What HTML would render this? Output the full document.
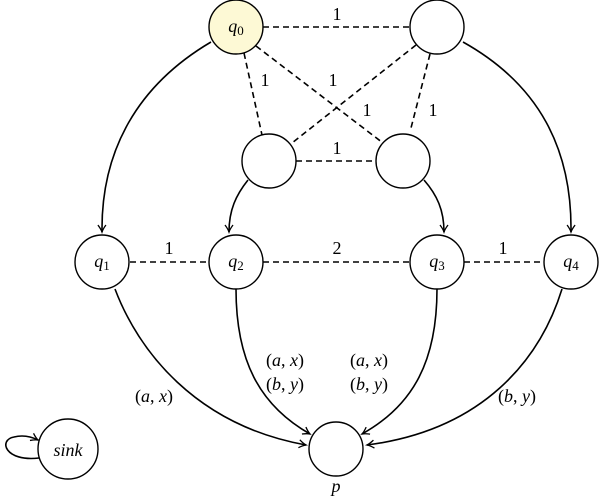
<!DOCTYPE html>
<html><head><style>
html,body{margin:0;padding:0;background:#fff;}
svg{display:block;}
text{font-family:"Liberation Serif",serif;font-size:18px;fill:#000;}
.i{font-style:italic;}
</style></head><body>
<svg width="600" height="498" viewBox="0 0 600 498" xmlns="http://www.w3.org/2000/svg">
<defs>
<marker id="a" markerWidth="10" markerHeight="10" refX="8" refY="5" orient="auto" markerUnits="userSpaceOnUse">
<path d="M1,1 Q5,4 8,5 Q5,6 1,9" fill="none" stroke="#000" stroke-width="1.3"/>
</marker>
</defs>
<g stroke="#000" stroke-width="1.6" stroke-dasharray="6,4" fill="none">
<line x1="263" y1="27" x2="410" y2="27"/>
<line x1="244" y1="53" x2="262" y2="135"/>
<line x1="256" y1="46" x2="383" y2="143"/>
<line x1="416" y1="45" x2="292" y2="143"/>
<line x1="430" y1="54" x2="411" y2="128"/>
<line x1="296" y1="161" x2="377" y2="161"/>
<line x1="130" y1="262" x2="209" y2="262"/>
<line x1="263" y1="262" x2="410" y2="262"/>
<line x1="464" y1="262" x2="545" y2="262"/>
</g>
<g stroke="#000" stroke-width="1.6" fill="none" marker-end="url(#a)">
<path d="M211,42 C138,85 101,150 102,232"/>
<path d="M463,42 C540,85 572,150 571,232"/>
<path d="M248,180 C236,195 229,210 229,232"/>
<path d="M424,180 C437,195 444,210 444,232"/>
<path d="M115,289 C138,350 195,425 306,445"/>
<path d="M236,289 C236,360 259,405 310,434"/>
<path d="M437,289 C437,360 414,405 362,434"/>
<path d="M562,289 C540,360 483,430 367,445"/>
<path d="M39,458 C5,462 -2,440 14,437 C22,435 30,436 38,440"/>
</g>
<g stroke="#000" stroke-width="1.4">
<circle cx="236" cy="27" r="27" fill="#fdf9d5"/>
<circle cx="437" cy="27" r="27" fill="#fff"/>
<circle cx="269" cy="161" r="27" fill="#fff"/>
<circle cx="403" cy="161" r="27" fill="#fff"/>
<circle cx="102" cy="262" r="27" fill="#fff"/>
<circle cx="236" cy="262" r="27" fill="#fff"/>
<circle cx="437" cy="262" r="27" fill="#fff"/>
<circle cx="571" cy="262" r="27" fill="#fff"/>
<circle cx="336" cy="449" r="27" fill="#fff"/>
<circle cx="68" cy="449" r="30" fill="#fff"/>
</g>
<g text-anchor="middle">
<text x="236" y="32" class="i">q<tspan font-size="13" font-style="normal" dy="3">0</tspan></text>
<text x="102" y="267" class="i">q<tspan font-size="13" font-style="normal" dy="3">1</tspan></text>
<text x="236" y="267" class="i">q<tspan font-size="13" font-style="normal" dy="3">2</tspan></text>
<text x="437" y="267" class="i">q<tspan font-size="13" font-style="normal" dy="3">3</tspan></text>
<text x="571" y="267" class="i">q<tspan font-size="13" font-style="normal" dy="3">4</tspan></text>
<text x="68" y="456" class="i">sink</text>
<text x="336" y="492" class="i">p</text>
<text x="337" y="20">1</text>
<text x="265" y="86">1</text>
<text x="333" y="86">1</text>
<text x="367" y="116">1</text>
<text x="433" y="116">1</text>
<text x="337" y="154">1</text>
<text x="169" y="254">1</text>
<text x="337" y="254">2</text>
<text x="503" y="254">1</text>
<text x="154" y="402">(<tspan class="i">a</tspan>, <tspan class="i">x</tspan>)</text>
<text x="285" y="366">(<tspan class="i">a</tspan>, <tspan class="i">x</tspan>)</text>
<text x="285" y="390">(<tspan class="i">b</tspan>, <tspan class="i">y</tspan>)</text>
<text x="369" y="366">(<tspan class="i">a</tspan>, <tspan class="i">x</tspan>)</text>
<text x="369" y="390">(<tspan class="i">b</tspan>, <tspan class="i">y</tspan>)</text>
<text x="517" y="402">(<tspan class="i">b</tspan>, <tspan class="i">y</tspan>)</text>
</g>
</svg>
</body></html>
